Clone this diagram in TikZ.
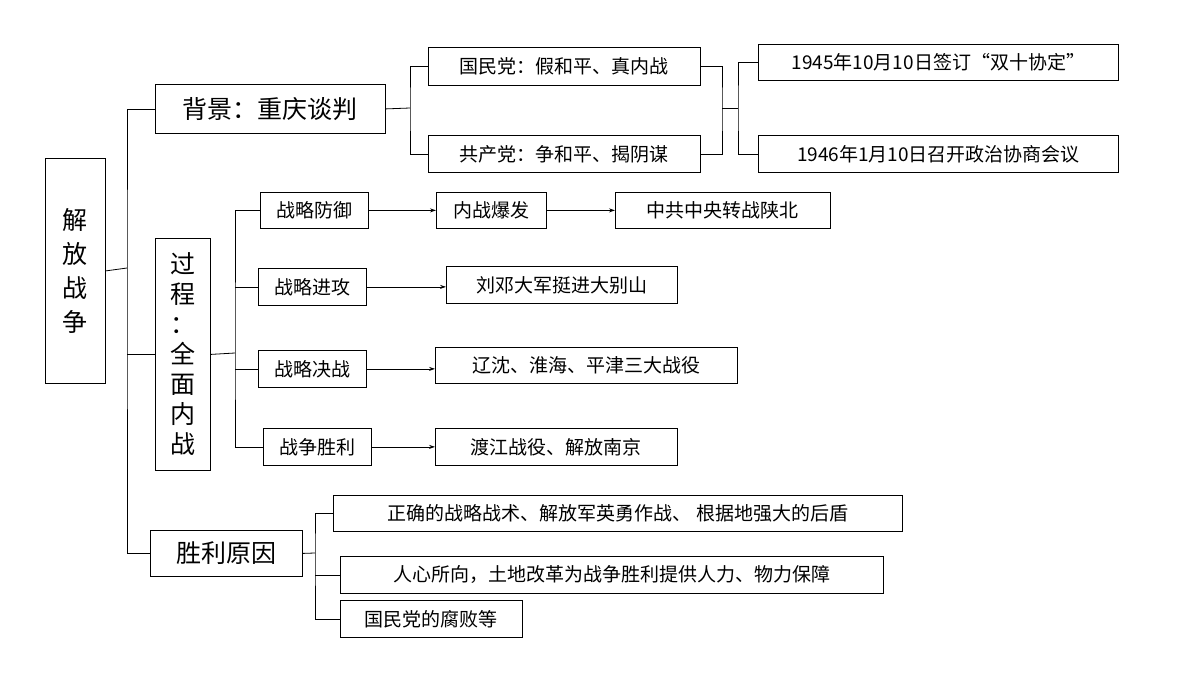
\documentclass[tikz,border=0pt]{standalone}
\usepackage{fontspec}
\setmainfont{Liberation Sans}
\newfontfamily\cjk{Noto Sans CJK SC}
\usetikzlibrary{arrows.meta}
\begin{document}
\begin{tikzpicture}[x=1pt,y=-1pt,
  bx/.style={draw,line width=0.8pt,inner sep=0pt,anchor=north west,font=\cjk\fontsize{19}{22}\selectfont},
  big/.style={bx,font=\cjk\fontsize{25}{30}\selectfont},
  ln/.style={line width=0.8pt},
  ar/.style={ln,-{Stealth[length=6pt,width=4pt]}}]
\useasboundingbox (0,0) rectangle (1200,675);
\newcommand\bxat[6]{\node[#1,minimum width=#4-#2,minimum height=#5-#3] (#6) at (#2,#3) {};}
% main
\node[big,minimum width=60,minimum height=225,align=center] (m) at (45,158) {解\\[4pt]放\\[4pt]战\\[4pt]争};
\node[big,minimum width=230,minimum height=49] (bg) at (155,84) {背景：重庆谈判};
\node[big,minimum width=55,minimum height=232,align=center] (gc) at (155,238) {过\\程\\：\\全\\面\\内\\战};
\node[big,minimum width=152,minimum height=46] (sl) at (150,530) {胜利原因};
\node[bx,minimum width=272,minimum height=38] (gm) at (428,47) {国民党：假和平、真内战};
\node[bx,minimum width=272,minimum height=37] (gcd) at (428,135) {共产党：争和平、揭阴谋};
\node[bx,minimum width=360,minimum height=36] (a1) at (758,44) {1945年10月10日签订“双十协定”};
\node[bx,minimum width=360,minimum height=37] (a2) at (758,135) {1946年1月10日召开政治协商会议};
\node[bx,minimum width=108,minimum height=36] (f1) at (260,192) {战略防御};
\node[bx,minimum width=110,minimum height=36] (f2) at (436,192) {内战爆发};
\node[bx,minimum width=215,minimum height=36] (f3) at (615,192) {中共中央转战陕北};
\node[bx,minimum width=108,minimum height=37] (j1) at (258,268) {战略进攻};
\node[bx,minimum width=231,minimum height=37] (j2) at (446,266) {刘邓大军挺进大别山};
\node[bx,minimum width=108,minimum height=37] (d1) at (258,350) {战略决战};
\node[bx,minimum width=302,minimum height=36] (d2) at (435,347) {辽沈、淮海、平津三大战役};
\node[bx,minimum width=108,minimum height=37] (s1) at (263,428) {战争胜利};
\node[bx,minimum width=242,minimum height=37] (s2) at (435,428) {渡江战役、解放南京};
\node[bx,minimum width=569,minimum height=36] (r1) at (333,495) {正确的战略战术、解放军英勇作战、 根据地强大的后盾};
\node[bx,minimum width=543,minimum height=37] (r2) at (340,556) {人心所向，土地改革为战争胜利提供人力、物力保障};
\node[bx,minimum width=182,minimum height=37] (r3) at (340,600) {国民党的腐败等};
% main bracket
\coordinate (c0) at (127,268);
\draw[ln] (m.east) -- (c0);
\draw[ln] (bg.west) -| (c0) |- (sl.west);
\draw[ln] (c0 |- gc.west) -- (gc.west);
% background
\coordinate (c1) at (410,108);
\draw[ln] (bg.east) -- (c1);
\draw[ln] (gm.west) -| (c1) |- (gcd.west);
\coordinate (c2) at (722,108);
\coordinate (c3) at (738,108);
\draw[ln] (gm.east) -| (c2) |- (gcd.east);
\draw[ln] (c2) -- (c3);
\draw[ln] (a1.west) -| (c3) |- (a2.west);
% process
\coordinate (c4) at (235,353);
\draw[ln] (gc.east) -- (c4);
\draw[ln] (f1.west) -| (c4) |- (s1.west);
\draw[ln] (c4 |- j1.west) -- (j1.west);
\draw[ln] (c4 |- d1.west) -- (d1.west);
\draw[ar] (f1.east) -- (f2.west);
\draw[ar] (f2.east) -- (f3.west);
\draw[ar] (j1.east) -- (j2.west |- j1.east);
\draw[ar] (d1.east) -- (d2.west |- d1.east);
\draw[ar] (s1.east) -- (s2.west);
% reasons
\coordinate (c5) at (315,553);
\draw[ln] (sl.east) -- (c5);
\draw[ln] (r1.west) -| (c5) |- (r3.west);
\draw[ln] (c5 |- r2.west) -- (r2.west);
\end{tikzpicture}
\end{document}
